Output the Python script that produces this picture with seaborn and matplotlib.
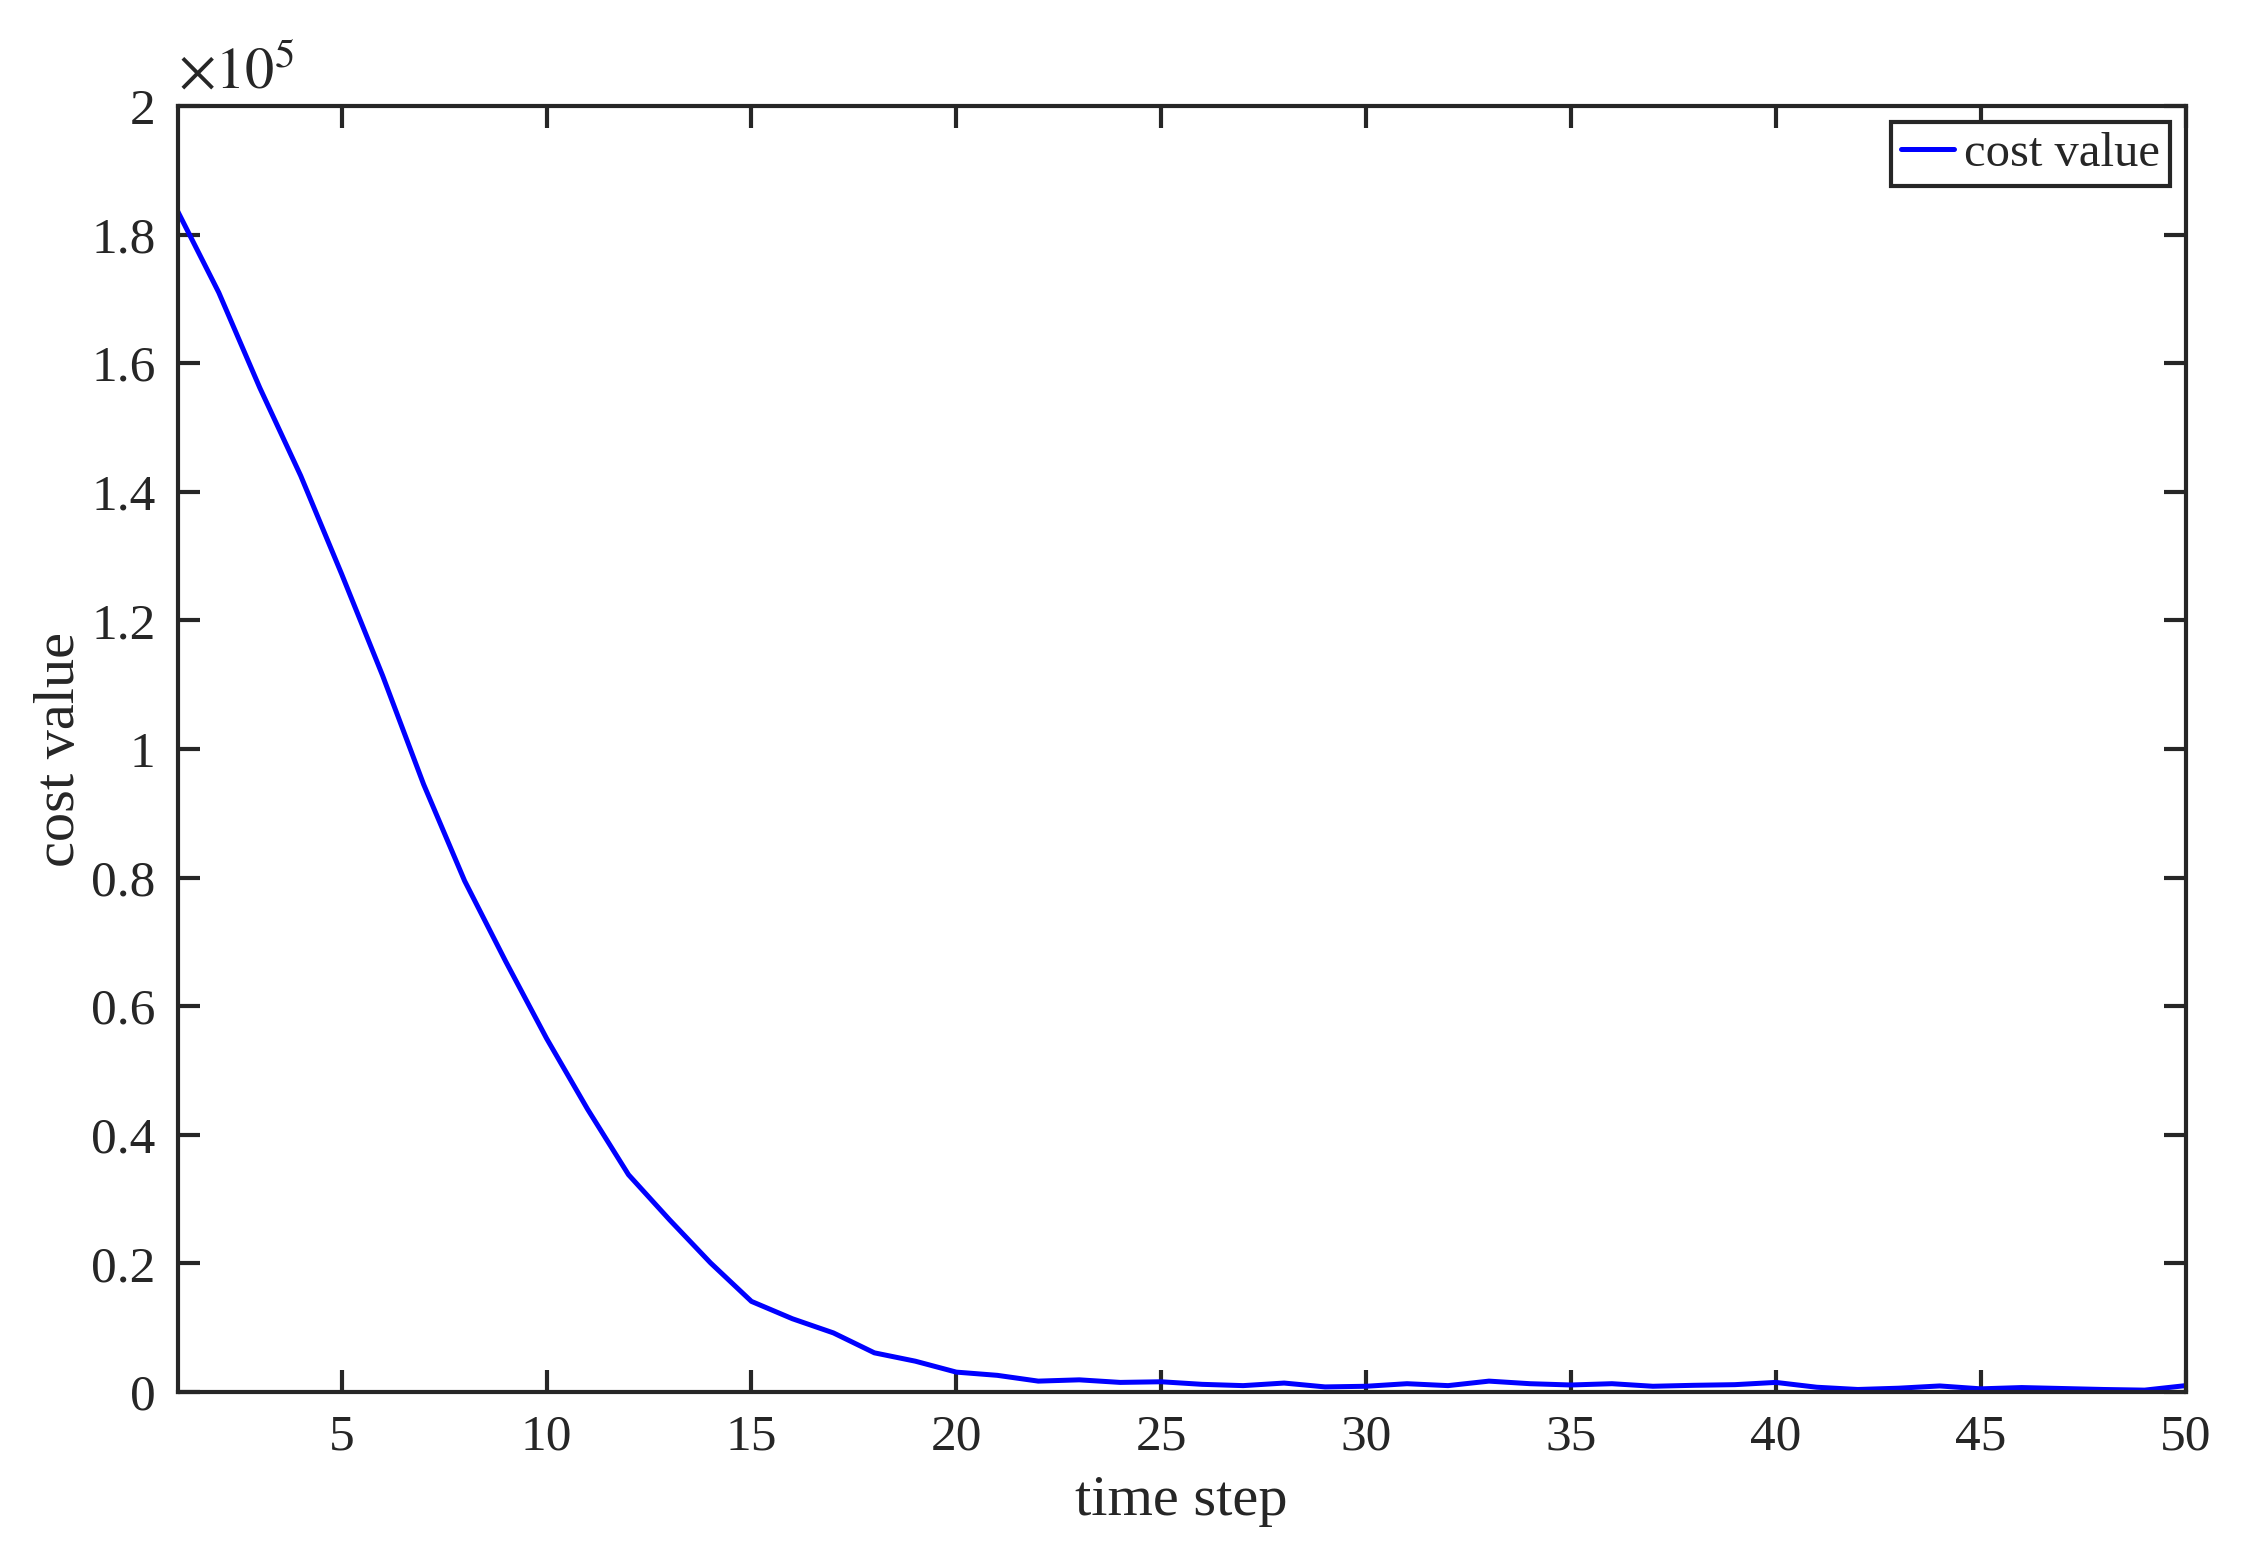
import numpy as np
import pandas as pd
import matplotlib
matplotlib.use("Agg")
import matplotlib.pyplot as plt
import seaborn as sns
from matplotlib.ticker import FuncFormatter, MultipleLocator

# cost per time step
time_step = list(range(1, 51))
cost = [183.6, 171.0, 156.2, 142.5, 127.2, 111.4, 94.5, 79.5, 67.0, 55.0,
        44.0, 33.8, 26.8, 20.1, 14.1, 11.4, 9.2, 6.1, 4.8, 3.1,
        2.6, 1.7, 1.9, 1.5, 1.6, 1.2, 1.0, 1.4, 0.8, 0.9,
        1.3, 1.0, 1.7, 1.3, 1.1, 1.3, 0.9, 1.05, 1.15, 1.5,
        0.75, 0.4, 0.6, 0.95, 0.5, 0.7, 0.55, 0.4, 0.3, 1.0]
cost = [c * 1000 for c in cost]

df = pd.DataFrame({"time step": time_step, "cost value": cost})

sns.set_theme(style="ticks")
plt.rcParams['font.family'] = ['Liberation Serif', 'DejaVu Serif']
plt.rcParams['mathtext.fontset'] = 'stix'
dark = '#262626'

fig = plt.figure(figsize=(11.295, 7.75), dpi=200)
ax = fig.add_axes([0.0787, 0.1019, 0.8888, 0.8297])

sns.lineplot(data=df, x="time step", y="cost value", color='#0000ff',
             linewidth=1.8, label="cost value", ax=ax)

ax.set_xlim(1, 50)
ax.set_ylim(0, 2e5)
ax.xaxis.set_major_locator(MultipleLocator(5))
ax.yaxis.set_major_locator(MultipleLocator(2e4))
ax.yaxis.set_major_formatter(FuncFormatter(lambda v, p: f"{v / 1e5:g}"))

for s in ax.spines.values():
    s.set_visible(True)
    s.set_linewidth(1.5)
    s.set_color(dark)
ax.tick_params(axis='both', which='major', direction='in', length=8, width=1.5,
               color=dark, labelcolor=dark, labelsize=18.5, top=True, right=True, pad=8)

ax.set_xlabel("time step", fontsize=21, color=dark, labelpad=5)
ax.set_ylabel("cost value", fontsize=21, color=dark, labelpad=2)
ax.text(0.0, 1.004, r"$\times10^{5}$", transform=ax.transAxes, fontsize=21,
        color=dark, ha='left', va='bottom')

leg = ax.legend(loc='upper right', fontsize=17.5, frameon=True, fancybox=False,
                handlelength=1.1, handletextpad=0.2, borderpad=0.2,
                borderaxespad=0.33)
leg.get_frame().set_edgecolor(dark)
leg.get_frame().set_linewidth(1.5)
leg.get_frame().set_alpha(1)

fig.savefig("out.png", dpi=200)
